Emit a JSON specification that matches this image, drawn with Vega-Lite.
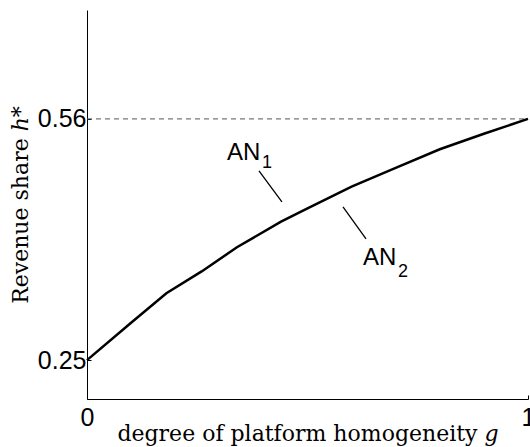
{
  "$schema": "https://vega.github.io/schema/vega-lite/v6.json",
  "width": 441,
  "height": 389,
  "autosize": {"type": "none"},
  "padding": {"left": 87, "top": 10, "right": 2, "bottom": 48},
  "background": "white",
  "config": {
    "view": {"stroke": null},
    "axis": {
      "grid": false,
      "labelFont": "Liberation Sans", "labelFontSize": 25, "labelColor": "black",
      "tickSize": -4, "tickColor": "black", "domainColor": "black", "domainWidth": 1,
      "titleFont": "DejaVu Serif", "titleFontSize": 22, "titleFontWeight": "normal", "titleColor": "black"
    }
  },
  "datasets": {
    "curve": [
      {"g": 0, "h": 0.25},
      {"g": 0.1, "h": 0.298},
      {"g": 0.18, "h": 0.336},
      {"g": 0.26, "h": 0.364},
      {"g": 0.34, "h": 0.395},
      {"g": 0.44, "h": 0.428},
      {"g": 0.5, "h": 0.445},
      {"g": 0.6, "h": 0.473},
      {"g": 0.7, "h": 0.497},
      {"g": 0.8, "h": 0.521},
      {"g": 0.9, "h": 0.541},
      {"g": 1, "h": 0.56}
    ],
    "ref": [{"g": 0, "h": 0.56}, {"g": 1, "h": 0.56}],
    "leaders": [
      {"g": 0.39, "h": 0.4932, "g2": 0.442, "h2": 0.4533},
      {"g": 0.5805, "h": 0.4469, "g2": 0.6327, "h2": 0.4057}
    ],
    "names": [
      {"g": 0.3175, "h": 0.5074, "t": "AN"},
      {"g": 0.626, "h": 0.3723, "t": "AN"}
    ],
    "subs": [
      {"g": 0.397, "h": 0.497, "t": "1"},
      {"g": 0.705, "h": 0.3568, "t": "2"}
    ]
  },
  "encoding": {
    "x": {"field": "g", "type": "quantitative", "scale": {"domain": [0, 1], "nice": false, "zero": false},
      "axis": {"values": [0, 1], "format": "d", "title": "degree of platform homogeneity 𝑔",
        "labelPadding": 10, "labelFlush": false, "titleY": 41, "titleBaseline": "alphabetic"}},
    "y": {"field": "h", "type": "quantitative", "scale": {"domain": [0.2, 0.7], "nice": false, "zero": false},
      "axis": {"values": [0.25, 0.56], "format": ".2f", "title": "Revenue share ℎ*",
        "labelPadding": 5, "titlePadding": 5}}
  },
  "layer": [
    {
      "data": {"name": "ref"},
      "mark": {"type": "line", "color": "#555555", "strokeWidth": 1, "strokeDash": [5, 4]}
    },
    {
      "data": {"name": "curve"},
      "mark": {"type": "line", "color": "black", "strokeWidth": 2.5}
    },
    {
      "data": {"name": "leaders"},
      "mark": {"type": "rule", "color": "black", "strokeWidth": 1.3},
      "encoding": {
        "x2": {"field": "g2"},
        "y2": {"field": "h2"}
      }
    },
    {
      "data": {"name": "names"},
      "mark": {"type": "text", "font": "Liberation Sans", "fontSize": 24, "align": "left", "baseline": "alphabetic", "color": "black"},
      "encoding": {
        "text": {"field": "t"}
      }
    },
    {
      "data": {"name": "subs"},
      "mark": {"type": "text", "font": "Liberation Sans", "fontSize": 18, "align": "left", "baseline": "alphabetic", "color": "black"},
      "encoding": {
        "text": {"field": "t"}
      }
    }
  ]
}
